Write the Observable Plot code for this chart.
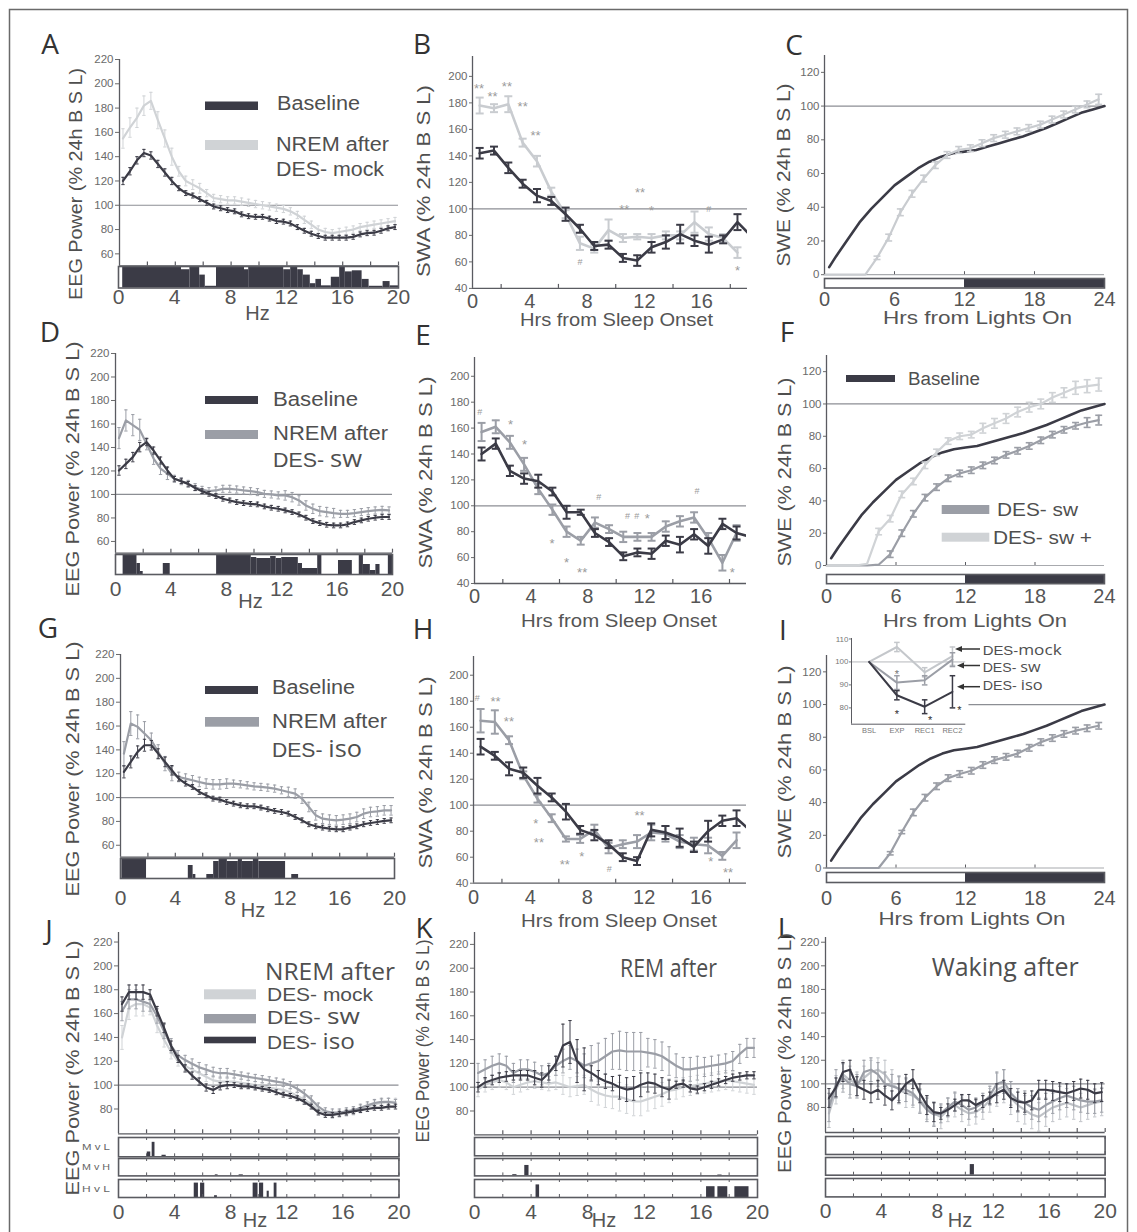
<!DOCTYPE html>
<html><head><meta charset="utf-8">
<script src="https://cdn.jsdelivr.net/npm/d3@7"></script>
<script src="https://cdn.jsdelivr.net/npm/@observablehq/plot@0.6"></script>
<style>
html,body{margin:0;padding:0;background:#fff;}
#root{position:relative;width:1137px;height:1232px;background:#fff;overflow:hidden;}
#root > svg{position:absolute;overflow:visible;}
</style></head>
<body><div id="root"></div>
<script>
// ================= DATA =================
const FREQ = d3.range(40).map(i => 0.25 + 0.5 * i);          // spectral bins (Hz)
const HZ_TICKS = [0, 4, 8, 12, 16, 20];
const HZ_MINOR = [2, 4, 6, 8, 10, 12, 14, 16, 18, 20];
const EEG_TICKS = [60, 80, 100, 120, 140, 160, 180, 200, 220];
const EEG_TICKS_J = [80, 100, 120, 140, 160, 180, 200, 220];
const SWA_TICKS = [40, 60, 80, 100, 120, 140, 160, 180, 200];
const SWA_XTICKS = [0, 4, 8, 12, 16];
const SWA_MINOR = [2, 6, 10, 14, 18];
const SWE_TICKS = [0, 20, 40, 60, 80, 100, 120];
const HRS_TICKS = [0, 6, 12, 18, 24];
const HRS_MINOR = [6, 12, 18];

// Panel A spectra (% baseline), error per 2-Hz band
const A_BSL  = [120,128,137,143,141,134,127,120,114,110,108,105,102,99,97.5,96,95,92.5,91,90.5,90.5,89,87,86.5,85,82,79,76.6,74.7,73.3,73.3,73.3,73.3,74,76,77,77.4,79,81,82];
const A_MOCK = [155,164,172,182,186,170,155,140,128,120,117,114,110,106,105,104,104,103,102,101,100,99,98,97,95,92,88,84,80,78,77,78,79,80,82,83,84,85,86,87];
const A_BSL_ERR  = [3,3,2,2,2,2,2,2,2,2];
const A_MOCK_ERR = [8,7,4,3,3,3,3,3,3,3];
// Panel D
const D_BSL = [120.4,126,131.8,140.3,144.5,137.4,128.9,120.4,113.3,111.3,109,105.4,102.8,100.5,98.6,96.3,94.9,93.5,92.6,92,91.5,89.8,88.7,87.8,86.4,85,83,80.2,77.3,75.6,74.2,73.6,73.6,74.5,76.5,77.9,79.3,80.2,80.8,80.8];
const D_SW  = [148,163,159,155,143,130.6,122,117.7,113.3,111.3,109,106.2,103.9,102.8,103.4,104.8,104.8,104.2,103.4,102.8,102,100.5,100,99.2,99.2,97.7,94.9,90.6,87.8,85.8,85,84.1,83.5,83.5,84.1,85,85.8,86.4,86.9,86.4];
const D_BSL_ERR = [4,3,2,2,2,2,2,2,2,2];
const D_SW_ERR  = [9,5,3,3,3,3,4,4,3,3];
// Panel G
const G_BSL = [121.5,129.9,138.3,143.9,143.9,136.9,129.9,122.9,115.9,111.7,108.9,104.7,101.9,99.1,98.3,96.3,94.9,93.5,92.7,92.7,91.6,90.2,88.8,87.9,86.5,83.7,80.9,77.6,75.9,74.8,73.9,73.4,73.4,74.8,75.9,77.6,78.7,79.5,80.4,80.9];
const G_ISO = [136.9,162.1,159.3,153.7,148.1,138.3,128.5,120.1,117.3,115.9,114.5,113.1,111.7,111.1,111.1,111.7,111.7,111.1,110.3,109.4,108.9,108.3,107.5,106.1,104.7,103.3,99.1,92.1,85.1,82.3,81.5,80.9,81.5,82.3,83.7,86.5,87.9,88.4,89.3,89.3];
const G_BSL_ERR = [5,4,2,2,2,2,2,2,2,2];
const G_ISO_ERR = [10,6,4,4,3,3,4,4,4,4];
// Panel J (NREM)
const J_MOCK = [140,165,168,168,165,150,138,128,120,116,113,110,107,104,103,103,103,102,101,100,99,98,97,96,94,91,88,84,79,76,75,76,77,78,80,82,84,85,86,86];
const J_SW   = [162,172,172,170,168,158,145,133,125,121,118,115,113,111,110,110,109,108,107,106,105,104,103,102,100,97,93,88,82,78,77,77,78,79,81,83,85,86,86,85];
const J_ISO  = [168,178,178,178,176,162,148,133,122,114,108,103,98,96,99,100,100,99,99,98,97,96,94,92,91,89,86,82,77,75,75,76,77,78,79,80,81,81,82,82];
const J_MOCK_ERR = [10,6,4,4,3,3,3,3,3,3];
const J_SW_ERR   = [8,6,4,4,3,3,3,3,3,3];
const J_ISO_ERR  = [6,4,3,3,2,2,2,2,2,2];
// Panel K (REM)
const K_MOCK = [98,102,104,106,104,100,102,104,105,104,103,104,102,100,101,102,98,95,93,92,92,90,88,88,90,92,94,97,98,100,101,102,103,104,105,106,105,104,103,102];
const K_SW   = [112,115,118,120,118,112,115,115,113,110,112,118,122,125,122,118,120,122,126,130,131,130,130,130,129,128,126,122,118,115,115,116,117,118,119,120,122,128,133,133];
const K_ISO  = [100,104,106,108,109,110,110,110,108,106,112,120,135,138,122,115,112,108,105,103,100,98,99,102,104,103,100,98,102,103,99,98,100,102,104,106,108,109,110,110];
const K_MOCK_ERR = [6,6,6,8,10,12,10,8,8,8];
const K_SW_ERR   = [8,8,8,10,15,16,12,10,8,8];
const K_ISO_ERR  = [4,4,6,18,6,10,8,3,3,3];
// Panel L (Waking)
const L_MOCK = [75,95,108,103,100,105,110,112,108,100,95,92,90,86,80,75,72,78,82,78,75,76,80,86,95,98,88,82,78,74,72,76,80,82,84,82,80,82,84,85];
const L_SW   = [80,100,105,100,98,110,112,108,100,98,96,95,92,85,78,74,75,80,85,82,78,80,84,90,100,102,92,86,84,80,78,82,85,88,90,88,86,85,85,86];
const L_ISO  = [88,97,110,112,98,95,92,95,90,86,92,100,104,92,82,76,75,78,82,86,86,82,85,88,92,95,88,85,84,86,95,95,94,93,92,94,96,95,92,93];
const L_MOCK_ERR = [12,10,12,10,10,10,14,12,12,12];
const L_SW_ERR   = [12,10,10,10,8,8,10,10,10,10];
const L_ISO_ERR  = [8,8,8,8,5,5,8,8,8,8];

// significance strips: [fromHz, toHz, relative height]
const A_SIG = [[0.3,4.5,1],[4.5,5.1,0.85],[5.1,5.8,1],[5.8,6.2,0.6],[6.2,7.0,0.08],[7.0,9.0,1],[9.0,9.3,0.85],[9.3,11.8,1],[11.8,12.3,0.85],[12.3,12.8,1],[12.8,13.2,0.85],[13.2,13.7,0.6],[13.7,14.1,0.2],[14.1,14.5,0.4],[14.5,15.2,0.1],[15.2,15.8,0.5],[15.8,16.2,1],[16.2,16.7,0.75],[16.7,17.4,0.8],[17.4,17.9,0.4],[17.9,18.9,0.08],[18.9,19.4,0.3],[19.4,20,0.1]];
const D_SIG = [[0.55,1.55,1],[1.55,1.8,0.55],[1.8,2.0,0.15],[3.45,3.95,0.55],[7.3,9.8,1],[9.8,10.2,0.85],[10.2,11.2,0.8],[11.2,11.6,0.9],[11.6,12.0,0.8],[12.0,13.2,0.85],[13.2,13.5,0.55],[13.5,14.6,0.3],[14.6,14.9,1],[16.1,17.1,0.7],[17.6,17.9,1],[17.9,18.4,0.5],[18.4,18.8,0.2],[18.8,19.1,0.5],[19.7,20,1]];
const G_SIG = [[0.1,1.9,1],[4.95,5.3,0.65],[5.3,5.5,0.2],[6.3,6.8,0.2],[6.8,7.2,0.85],[7.2,7.8,1],[7.8,8.6,0.85],[8.6,8.9,1],[8.9,9.7,0.85],[9.7,10.1,1],[10.1,12.05,0.85],[12.5,13.0,0.2]];
const J_MVL = [[2.05,2.3,0.25],[2.4,2.6,0.75],[3.1,3.4,0.08]];
const J_MVH = [[6.9,7.1,0.06],[8.6,8.9,0.06]];
const J_HVL = [[5.4,5.7,0.8],[5.85,6.15,0.8],[6.85,7.05,0.1],[9.6,9.95,0.8],[10.05,10.35,0.8],[10.6,10.75,0.35],[11.1,11.3,0.8]];
const K_MVL = [];
const K_MVH = [[2.7,3.0,0.07],[3.55,3.85,0.6],[17.2,17.5,0.05]];
const K_HVL = [[4.35,4.6,0.7],[16.4,17.0,0.6],[17.2,17.9,0.6],[18.4,19.4,0.6]];
const L_MVL = [];
const L_MVH = [[10.35,10.65,0.6]];
const L_HVL = [];

// SWA per hour from sleep onset
const SWA_H = d3.range(19).map(i => i + 0.5);
const TAIL_H = 19.5;
const B_BSL = [142,144,131,119,110,106,96,85,72,73,63,61,71,75,81,76,73,77,90];
const B_BSL_ERR = [4,3,4,3,5,3,5,3,3,3,3,4,4,5,7,4,6,3,6];
const B_BSL_TAIL = 79;
const B_MOCK = [178,176,179,150,136,113,96,74,70,84,78,79,78,80,80,90,81,78,67];
const B_MOCK_ERR = [6,3,6,3,4,3,3,5,3,8,3,2,3,3,3,8,5,3,4];
const B_MARKS = [[0.45,193,"**"],[1.4,187,"**"],[2.4,195,"**"],[3.5,180,"**"],[4.4,158,"**"],[7.5,59.5,"#"],[10.6,102,"**"],[11.7,115,"**"],[12.5,101,"*"],[16.5,100,"#"],[18.5,55.7,"*"]];
const E_BSL = [140,148,127,121,119,111,95,95,79,72,61,64,63,73,70,78,69,86,79];
const E_BSL_ERR = [5,4,4,4,5,3,5,2,3,3,3,3,4,4,6,4,6,4,5];
const E_BSL_TAIL = 76;
const E_SW = [157,161,149,132,113,97,80,73,87,82,76,76,76,84,88,91,75,56,79];
const E_SW_ERR = [7,5,5,5,4,4,4,3,4,3,4,3,3,4,4,4,4,6,6];
const E_MARKS = [[0.37,172,"#"],[2.54,165.6,"*"],[3.53,149.6,"*"],[8.77,106.4,"#"],[10.8,92.3,"#"],[11.45,92.3,"#"],[12.2,92.3,"*"],[15.7,111.6,"#"],[5.48,73.5,"*"],[6.5,58.8,"*"],[7.6,51,"**"],[18.2,51,"*"]];
const H_BSL = [145,138,128,125,115,106,95,81,77,70,60,57,81,79,75,68,80,88,90];
const H_BSL_ERR = [6,3,5,4,6,3,6,3,4,3,3,3,5,5,7,4,8,4,6];
const H_BSL_TAIL = 80;
const H_ISO = [165,164,150,123,105,90,74,74,81,67,70,72,79,78,72,70,69,61,73];
const H_ISO_ERR = [9,9,3,3,3,3,2,3,4,4,3,5,6,6,5,5,6,3,6];
const H_MARKS = [[0.26,182.6,"#"],[1.55,182.6,"**"],[2.49,167.2,"**"],[4.38,88.2,"*"],[4.6,73.4,"**"],[6.42,56.9,"**"],[7.62,62.6,"*"],[9.55,51.1,"#"],[11.67,94.6,"**"],[16.68,58.8,"*"],[17.9,50.3,"**"]];

// SWE cumulative (% of 24h baseline)
const BSL_SWE_H = [0.4,1,2,3,4,5,6,7,8,9,10,11,12,13,14,15,16,17,18,19,20,21,22,23,24];
const BSL_SWE   = [4.5,11,21,31,39,46,53,58,63,67,70,72,73,74,76,78,80,82,84.5,87,90,93,96,98,100];
const SWE_H = d3.range(24).map(i => i + 0.5);
const C_MOCK = [0,0,0,0,10,22,37,48,57,65,71,74,75,78,81,83,85,87,89,92,95,98,101,104];
const C_MOCK_ERR = [0,0,0,0,1,2,2,2,2,2,2,2,2,2,2,2,2,2,2,2,2,2,2,3];
const F_SW  = [0,0,0,0,0.5,7,20,32,42,48.5,54,57,59,62,65,68.5,71,74,77.5,81,84,86.5,88.5,90];
const F_SW_ERR = [0,0,0,0,0,2,2,2,2,2,2,2,2,2,2,2,2,2,2,2,2,2,3,3];
const F_SWP = [0,0,0,1,21,29,44,52,62,70,77,80,81,85,88,91,95,98,100,104,107,110,111,112];
const F_SWP_ERR = [0,0,0,0,2,2,2,2,2,2,2,2,2,3,3,3,3,3,3,3,3,4,4,4];
const I_ISO = [0,0,0,0,0,9,22,34,43,50,55,57.5,59.5,63,66,68,70,73.5,77,79.5,82,84,85.5,87];
const I_ISO_ERR = [0,0,0,0,0,1,1,2,2,2,2,2,2,2,2,2,2,2,2,2,2,2,2,2];
const LIGHT_PHASES = [{from: 0, to: 12, phase: "light"}, {from: 12, to: 24, phase: "dark"}];

// inset of panel I
const INSET_CAT = ["BSL", "EXP", "REC1", "REC2"];
const INSET_MOCK = [100, 106.5, 95.5, 102.5], INSET_MOCK_ERR = [0, 2, 2, 4];
const INSET_SW   = [100, 91, 92, 101],      INSET_SW_ERR   = [0, 3, 2, 3];
const INSET_ISO  = [100, 85.5, 80.5, 87],   INSET_ISO_ERR  = [0, 2, 3, 7];
const INSET_MARKS = [[1, 96, "*", "sw"], [1, 78.5, "*", "iso"], [2.2, 76, "*", "iso"], [3.25, 80, "*", "iso"]];

// ================= STYLE =================
const C_DARK = "#3b3b46", C_MID = "#9b9ea6", C_LIGHT = "#d0d3d6";
const C_AXIS = "#5a5b61", C_REF = "#8c8e94", C_TXT = "#4f4f4f";
const F_ARIAL = "'Liberation Sans', Arial, Helvetica, sans-serif";
const F_MYR = "'Open Sans', 'Noto Sans', sans-serif";
const root = document.getElementById("root");

function addPlot(box, m, opts, color = "#6a6a6a") {
  const [x0, y0, x1, y1] = box, [mt, mr, mb, ml] = m;
  const el = Plot.plot({
    width: (x1 - x0) + ml + mr, height: (y1 - y0) + mt + mb,
    marginTop: mt, marginRight: mr, marginBottom: mb, marginLeft: ml,
    style: {background: "transparent", fontFamily: F_ARIAL, color: color, overflow: "visible"},
    ...opts
  });
  el.style.position = "absolute";
  el.style.left = (x0 - ml) + "px";
  el.style.top = (y0 - mt) + "px";
  root.appendChild(el);
  return el;
}

function spectrum(box, yDom, yTicks, series) {
  const marks = [Plot.ruleY([100], {stroke: C_REF, strokeWidth: 1.2})];
  for (const s of series) {
    const d = FREQ.map((f, i) => ({f, v: s.v[i], e: s.e[Math.min(9, Math.floor(f / 2))]}));
    marks.push(
      Plot.ruleX(d, {x: "f", y1: q => q.v - q.e, y2: q => q.v + q.e, stroke: s.c, strokeWidth: 1, clip: true}),
      Plot.link(d, {x1: q => q.f - 0.12, x2: q => q.f + 0.12, y1: q => q.v + q.e, y2: q => q.v + q.e, stroke: s.c, strokeWidth: 1, clip: true}),
      Plot.link(d, {x1: q => q.f - 0.12, x2: q => q.f + 0.12, y1: q => q.v - q.e, y2: q => q.v - q.e, stroke: s.c, strokeWidth: 1, clip: true}),
      Plot.line(d, {x: "f", y: "v", stroke: s.c, strokeWidth: 2.2, clip: true})
    );
  }
  const k = (yDom[1] - yDom[0]) * 4 / (box[3] - box[1]);
  marks.push(
    Plot.ruleX(HZ_MINOR, {y1: yDom[0], y2: yDom[0] + k, stroke: C_AXIS, strokeWidth: 1.2}),
    Plot.ruleY([yDom[0]], {stroke: C_AXIS, strokeWidth: 1.3}),
    Plot.ruleX([0], {stroke: C_AXIS, strokeWidth: 1.3}),
    Plot.axisY({ticks: yTicks, tickSize: 4, tickPadding: 2, fontSize: 11.5, label: null})
  );
  addPlot(box, [6, 6, 2, 40], {x: {domain: [0, 20], axis: null}, y: {domain: yDom}, marks});
}

function strip(box, runs, {labels = false, pad = 4, both = false} = {}) {
  const marks = [Plot.rect(runs, {x1: r => r[0], x2: r => r[1], y1: 0, y2: r => r[2], fill: C_DARK, inset: 0})];
  if (both) {
    const k = 3 / (box[3] - box[1]);
    marks.push(Plot.ruleX(HZ_MINOR, {y1: 1, y2: 1 - k, stroke: C_AXIS}), Plot.ruleX(HZ_MINOR, {y1: 0, y2: k, stroke: C_AXIS}));
  }
  marks.push(Plot.frame({stroke: C_AXIS, strokeWidth: 1.6}));
  if (labels) marks.push(Plot.axisX({ticks: HZ_TICKS, tickSize: 0, tickPadding: pad, fontSize: 21, label: null}));
  addPlot(box, [2, 10, labels ? 32 : 2, 6], {x: {domain: [0, 20], axis: null}, y: {domain: [0, 1], axis: null}, marks}, "#555");
}

function swa(box, yDom, series, markers, pad) {
  const marks = [Plot.ruleY([100], {stroke: C_REF, strokeWidth: 1.3})];
  for (const s of series) {
    const d = SWA_H.map((h, i) => ({h, v: s.v[i], e: s.e[i]}));
    const dl = s.tail != null ? d.concat([{h: TAIL_H, v: s.tail}]) : d;
    marks.push(
      Plot.line(dl, {x: "h", y: "v", stroke: s.c, strokeWidth: 2.6, clip: true}),
      Plot.ruleX(d, {x: "h", y1: q => q.v - q.e, y2: q => q.v + q.e, stroke: s.c, strokeWidth: 2}),
      Plot.link(d, {x1: q => q.h - 0.28, x2: q => q.h + 0.28, y1: q => q.v + q.e, y2: q => q.v + q.e, stroke: s.c, strokeWidth: 2}),
      Plot.link(d, {x1: q => q.h - 0.28, x2: q => q.h + 0.28, y1: q => q.v - q.e, y2: q => q.v - q.e, stroke: s.c, strokeWidth: 2})
    );
  }
  const k = (yDom[1] - yDom[0]) * 4 / (box[3] - box[1]);
  marks.push(
    Plot.ruleX(SWA_MINOR, {y1: yDom[0], y2: yDom[0] + k, stroke: C_AXIS, strokeWidth: 1.2}),
    Plot.ruleY([yDom[0]], {stroke: C_AXIS, strokeWidth: 1.3}),
    Plot.ruleX([0], {stroke: C_AXIS, strokeWidth: 1.3}),
    Plot.axisY({ticks: SWA_TICKS, tickSize: 3, tickPadding: 2, fontSize: 11.5, label: null}),
    Plot.axisX({ticks: SWA_XTICKS, tickSize: 0, tickPadding: pad, fontSize: 20, label: null, fill: "#555"}),
    Plot.text(markers.filter(m => m[2] !== "#"), {x: m => m[0], y: m => m[1], text: m => m[2], fill: "#9a9a9a", fontSize: 13, dy: 3.5, fontFamily: F_ARIAL}),
    Plot.text(markers.filter(m => m[2] === "#"), {x: m => m[0], y: m => m[1], text: m => m[2], fill: "#9a9a9a", fontSize: 9, fontFamily: F_ARIAL})
  );
  addPlot(box, [4, 6, 32, 40], {x: {domain: [0, 19.2]}, y: {domain: yDom}, marks});
}

function swe(box, series, refFrom = 0) {
  const k = 130 * 3 / (box[3] - box[1]);
  const marks = [
    Plot.ruleY([100], {x1: refFrom, x2: 24, stroke: C_REF, strokeWidth: 1.2}),
    Plot.ruleY([0], {stroke: "#a8aaae", strokeWidth: 1.2}),
    Plot.line(BSL_SWE_H.map((h, i) => ({h, v: BSL_SWE[i]})), {x: "h", y: "v", stroke: C_DARK, strokeWidth: 2.6})
  ];
  for (const s of series) {
    const d = SWE_H.map((h, i) => ({h, v: s.v[i], e: s.e[i]}));
    const de = d.filter(q => q.e > 0);
    marks.push(
      Plot.line([{h: 0, v: 0}].concat(d), {x: "h", y: "v", stroke: s.c, strokeWidth: 2.2}),
      Plot.ruleX(de, {x: "h", y1: q => q.v - q.e, y2: q => q.v + q.e, stroke: s.c, strokeWidth: 2}),
      Plot.link(de, {x1: q => q.h - 0.3, x2: q => q.h + 0.3, y1: q => q.v + q.e, y2: q => q.v + q.e, stroke: s.c, strokeWidth: 1.6}),
      Plot.link(de, {x1: q => q.h - 0.3, x2: q => q.h + 0.3, y1: q => q.v - q.e, y2: q => q.v - q.e, stroke: s.c, strokeWidth: 1.6})
    );
  }
  marks.push(
    Plot.ruleX(HRS_MINOR, {y1: 0, y2: k, stroke: C_AXIS}),
    Plot.ruleX([0], {stroke: C_AXIS, strokeWidth: 1.3}),
    Plot.axisY({ticks: SWE_TICKS, tickSize: 3, tickPadding: 2, fontSize: 11.5, label: null})
  );
  addPlot(box, [4, 6, 2, 40], {x: {domain: [0, 24], axis: null}, y: {domain: [0, 130]}, marks});
}

function dayBar(box, pad) {
  const marks = [
    Plot.rect(LIGHT_PHASES.filter(p => p.phase === "light"), {x1: "from", x2: "to", y1: 0, y2: 1, fill: "white"}),
    Plot.rect(LIGHT_PHASES.filter(p => p.phase === "dark"), {x1: "from", x2: "to", y1: 0, y2: 1, fill: C_DARK}),
    Plot.frame({stroke: C_AXIS, strokeWidth: 1.6}),
    Plot.axisX({ticks: HRS_TICKS, tickSize: 0, tickPadding: pad, fontSize: 20, label: null})
  ];
  addPlot(box, [2, 12, 32, 6], {x: {domain: [0, 24]}, y: {domain: [0, 1], axis: null}, marks}, "#555");
}

function inset(box) {
  const yDom = [72.9, 110.2];
  const series = [
    {v: INSET_MOCK, e: INSET_MOCK_ERR, c: "#c4c7cb"},
    {v: INSET_SW, e: INSET_SW_ERR, c: C_MID},
    {v: INSET_ISO, e: INSET_ISO_ERR, c: C_DARK}
  ];
  const marks = [Plot.ruleY([100], {stroke: "#b5b7bb", strokeWidth: 1})];
  for (const s of series) {
    const d = INSET_CAT.map((c, i) => ({i, v: s.v[i], e: s.e[i]}));
    const de = d.filter(q => q.e > 0);
    marks.push(
      Plot.line(d, {x: "i", y: "v", stroke: s.c, strokeWidth: 2}),
      Plot.ruleX(de, {x: "i", y1: q => q.v - q.e, y2: q => q.v + q.e, stroke: s.c, strokeWidth: 1.5}),
      Plot.link(de, {x1: q => q.i - 0.1, x2: q => q.i + 0.1, y1: q => q.v + q.e, y2: q => q.v + q.e, stroke: s.c, strokeWidth: 1.5}),
      Plot.link(de, {x1: q => q.i - 0.1, x2: q => q.i + 0.1, y1: q => q.v - q.e, y2: q => q.v - q.e, stroke: s.c, strokeWidth: 1.5})
    );
  }
  marks.push(
    Plot.ruleX([-0.633], {stroke: C_AXIS, strokeWidth: 1}),
    Plot.ruleY([yDom[0]], {stroke: C_AXIS, strokeWidth: 1}),
    Plot.axisY({ticks: [80, 90, 100, 110], tickSize: 2, tickPadding: 1, fontSize: 8, label: null}),
    Plot.axisX({ticks: [0, 1, 2, 3], tickFormat: i => INSET_CAT[i], tickSize: 0, tickPadding: 3, fontSize: 7.5, label: null}),
    Plot.text(INSET_MARKS, {x: m => m[0], y: m => m[1], text: m => m[2], fill: m => m[3] === "sw" ? "#777" : "#333", fontSize: 11, dy: 3})
  );
  addPlot(box, [2, 4, 14, 22], {x: {domain: [-0.633, 3.48], axis: null}, y: {domain: yDom}, marks}, "#777");
}

// ================= PANELS =================
// Row 1
spectrum([119, 58.5, 398, 265], [50, 220], EEG_TICKS, [
  {v: A_MOCK, e: A_MOCK_ERR, c: C_LIGHT}, {v: A_BSL, e: A_BSL_ERR, c: C_DARK}]);
strip([118, 266, 398, 287.5], A_SIG, {labels: true, pad: 1});
swa([472, 55.6, 747, 287.5], [40, 215], [
  {v: B_MOCK, e: B_MOCK_ERR, c: "#c9ccd0"}, {v: B_BSL, e: B_BSL_ERR, c: C_DARK, tail: B_BSL_TAIL}], B_MARKS, 5);
swe([824.3, 54.8, 1104.3, 274], [{v: C_MOCK, e: C_MOCK_ERR, c: "#c9ccd0"}]);
dayBar([824.3, 278, 1104.3, 287.5], 3.5);

// Row 2
spectrum([115, 353, 392, 552.7], [50, 220], EEG_TICKS, [
  {v: D_SW, e: D_SW_ERR, c: C_MID}, {v: D_BSL, e: D_BSL_ERR, c: C_DARK}]);
strip([115, 554, 392, 574], D_SIG, {labels: true, pad: 7});
swa([474, 356.7, 746, 582.7], [40, 214.5], [
  {v: E_SW, e: E_SW_ERR, c: C_MID}, {v: E_BSL, e: E_BSL_ERR, c: C_DARK, tail: E_BSL_TAIL}], E_MARKS, 5.2);
swe([826, 355, 1104, 565], [{v: F_SW, e: F_SW_ERR, c: C_MID}, {v: F_SWP, e: F_SWP_ERR, c: C_LIGHT}]);
dayBar([826, 573.5, 1104, 582.7], 5.2);

// Row 3
spectrum([120, 654, 394, 856.7], [50, 220], EEG_TICKS, [
  {v: G_ISO, e: G_ISO_ERR, c: C_MID}, {v: G_BSL, e: G_BSL_ERR, c: C_DARK}]);
strip([120, 858.3, 394, 878.3], G_SIG, {labels: true, pad: 11.5});
swa([473, 656, 746, 882.7], [40, 214.4], [
  {v: H_ISO, e: H_ISO_ERR, c: C_MID}, {v: H_BSL, e: H_BSL_ERR, c: C_DARK, tail: H_BSL_TAIL}], H_MARKS, 6.8);
swe([826, 654.8, 1104, 867.3], [{v: I_ISO, e: I_ISO_ERR, c: C_MID}], 12.3);
dayBar([826, 871.7, 1104, 881.7], 7.8);
inset([850.7, 638.3, 965, 724]);

// Row 4
spectrum([117.5, 931.7, 398, 1133], [59.2, 228], EEG_TICKS_J, [
  {v: J_MOCK, e: J_MOCK_ERR, c: C_LIGHT}, {v: J_SW, e: J_SW_ERR, c: C_MID}, {v: J_ISO, e: J_ISO_ERR, c: C_DARK}]);
strip([117.5, 1136.7, 398, 1156], J_MVL, {both: true});
strip([117.5, 1158.3, 398, 1175.7], J_MVH, {both: true});
strip([117.5, 1179.3, 398, 1197.3], J_HVL, {both: true, labels: true, pad: 7});
spectrum([474, 931.7, 757, 1134], [60, 230], EEG_TICKS_J, [
  {v: K_MOCK, e: K_MOCK_ERR, c: C_LIGHT}, {v: K_SW, e: K_SW_ERR, c: C_MID}, {v: K_ISO, e: K_ISO_ERR, c: C_DARK}]);
strip([474, 1136.7, 757, 1155], K_MVL, {both: true});
strip([474, 1158.3, 757, 1175.7], K_MVH, {both: true});
strip([474, 1179.3, 757, 1197.3], K_HVL, {both: true, labels: true, pad: 7});
spectrum([825.3, 936.7, 1105, 1131.7], [58.8, 224], EEG_TICKS_J, [
  {v: L_MOCK, e: L_MOCK_ERR, c: "#bfc2c7"}, {v: L_SW, e: L_SW_ERR, c: C_MID}, {v: L_ISO, e: L_ISO_ERR, c: C_DARK}]);
strip([825.3, 1136, 1105, 1154], L_MVL, {both: true});
strip([825.3, 1157.3, 1105, 1175], L_MVH, {both: true});
strip([825.3, 1178.3, 1105, 1196.7], L_HVL, {both: true, labels: true, pad: 6});

// ================= ANNOTATION OVERLAY =================
const ov = d3.select(root).append("svg").attr("width", 1137).attr("height", 1232)
  .style("left", "0px").style("top", "0px").style("pointer-events", "none");
ov.append("rect").attr("x", 9.5).attr("y", 9.5).attr("width", 1118).attr("height", 1240)
  .attr("fill", "none").attr("stroke", "#6a6a6a").attr("stroke-width", 1.5);

function T(str, x, y, o = {}) {
  const {size = 20, anchor = "start", fill = C_TXT, family = F_ARIAL, len = null, rot = false} = o;
  const t = ov.append("text").attr("font-size", size).attr("font-family", family).attr("fill", fill).attr("text-anchor", anchor);
  t.attr("x", x).attr("y", y + 0.36 * size);
  if (rot) t.attr("transform", `rotate(-90 ${x} ${y})`);
  if (Array.isArray(str)) str.forEach(([s, sz, fam]) => t.append("tspan").attr("font-size", sz || size).attr("font-family", fam || family).text(s));
  else t.text(str);
  if (len) t.attr("textLength", len).attr("lengthAdjust", "spacingAndGlyphs");
  return t;
}
function R(x, y, w, h, c) { ov.append("rect").attr("x", x).attr("y", y).attr("width", w).attr("height", h).attr("fill", c); }
function arrow(x1, x2, y) {
  ov.append("line").attr("x1", x1).attr("x2", x2 + 5).attr("y1", y).attr("y2", y).attr("stroke", "#333").attr("stroke-width", 1.5);
  ov.append("path").attr("d", `M${x2},${y} L${x2 + 7},${y - 3} L${x2 + 7},${y + 3} Z`).attr("fill", "#333");
}
const LET = {size: 28, family: F_MYR, fill: "#333", anchor: "middle"};
// letters
[["A", 50, 44], ["B", 422, 44], ["C", 794, 45], ["D", 50, 332], ["E", 423, 335], ["F", 787, 332],
 ["G", 48, 628], ["H", 423, 629], ["I", 783, 630], ["J", 49, 930], ["K", 424, 928], ["L", 785, 928]]
  .forEach(([s, x, y]) => T(s, x, y, LET));

// y labels
const EEGL = "EEG Power (% 24h B S L)";
T(EEGL, 75, 184, {rot: true, anchor: "middle", size: 19, len: 232});
T(EEGL, 72, 469, {rot: true, anchor: "middle", size: 19, len: 255});
T(EEGL, 72, 769, {rot: true, anchor: "middle", size: 19, len: 255});
T(EEGL, 72, 1068, {rot: true, anchor: "middle", size: 19, len: 255});
T(EEGL, 423, 1041, {rot: true, anchor: "middle", size: 18, len: 203});
T(EEGL, 784, 1053, {rot: true, anchor: "middle", size: 19, len: 240});
T("SWA (% 24h B S L)", 422.7, 181, {rot: true, anchor: "middle", size: 19, len: 192});
T("SWA (% 24h B S L)", 425, 472.5, {rot: true, anchor: "middle", size: 19, len: 192});
T("SWA (% 24h B S L)", 425, 772.5, {rot: true, anchor: "middle", size: 19, len: 192});
T("SWE (% 24h B S L)", 783.3, 175, {rot: true, anchor: "middle", size: 19, len: 183});
T("SWE (% 24h B S L)", 784, 472, {rot: true, anchor: "middle", size: 19, len: 189});
T("SWE (% 24h B S L)", 784, 762, {rot: true, anchor: "middle", size: 19, len: 193});

// x labels
[[257.5, 313], [250.5, 600.5], [253, 910], [255, 1220], [604, 1220], [960, 1220]].forEach(([x, y]) => T("Hz", x, y, {anchor: "middle", size: 20, fill: "#555"}));
T("Hrs from Sleep Onset", 616.5, 319.5, {anchor: "middle", size: 19, len: 193, fill: "#555"});
T("Hrs from Sleep Onset", 619, 620, {anchor: "middle", size: 19, len: 196, fill: "#555"});
T("Hrs from Sleep Onset", 619, 920, {anchor: "middle", size: 19, len: 196, fill: "#555"});
T("Hrs from Lights On", 977.5, 317.5, {anchor: "middle", size: 19, len: 189, fill: "#555"});
T("Hrs from Lights On", 975, 620, {anchor: "middle", size: 19, len: 184, fill: "#555"});
T("Hrs from Lights On", 972, 918, {anchor: "middle", size: 19, len: 187, fill: "#555"});

// legends A, D, G
R(205, 101.5, 53, 8.5, C_DARK); T("Baseline", 277, 102.5, {len: 83});
R(205, 140, 53, 10, C_LIGHT); T("NREM after", 276, 143.3, {len: 113}); T("DES- mock", 276, 169, {len: 108});
R(205, 396, 53, 8, C_DARK); T("Baseline", 273, 398.8, {len: 85});
R(205, 430, 53, 9, C_MID); T("NREM after", 273, 432.5, {len: 115});
T([["DES- ", 20], ["sw", 24, F_MYR]], 273, 459.5, {len: 89});
R(205, 686, 53, 8, C_DARK); T("Baseline", 272, 686.7, {len: 83});
R(205, 717, 54, 9.7, C_MID); T("NREM after", 272, 720.8, {len: 115});
T([["DES- ", 20], ["iso", 24, F_MYR]], 272, 749.5, {len: 90});
// legend F
R(846, 375, 49, 7, C_DARK); T("Baseline", 908, 378.5, {size: 18, len: 72});
R(941.7, 505, 47.6, 9, C_MID); T("DES- sw", 997, 509.5, {size: 18, len: 81});
R(941.7, 532.7, 47.6, 9, C_LIGHT); T("DES- sw +", 993, 537.5, {size: 18, len: 99});
// inset labels I
T([["DES-", 13], ["mock", 15, F_MYR]], 982.7, 650, {size: 13, len: 79}); arrow(980, 955, 649);
T([["DES- ", 13], ["sw", 15, F_MYR]], 982.7, 667.8, {size: 13, len: 58}); arrow(980, 957, 665.5);
T([["DES- ", 13], ["iso", 15, F_MYR]], 982.7, 685.5, {size: 13, len: 60}); arrow(980, 957, 686.7);
// legend J
T("NREM after", 265, 972, {size: 23, family: F_MYR, len: 130});
R(204, 989.3, 52, 10, C_LIGHT); T("DES- mock", 267, 994.5, {size: 18, len: 106});
R(204, 1014, 52, 9.3, C_MID); T([["DES- ", 18], ["sw", 21, F_MYR]], 267, 1018, {size: 18, len: 93});
R(204, 1036.7, 52, 6.6, C_DARK); T([["DES- ", 18], ["iso", 21, F_MYR]], 267, 1043, {size: 18, len: 88});
[["M v L", 1146.5], ["M v H", 1167], ["H v L", 1188.3]].forEach(([s, y]) => T(s, 110, y, {size: 9, anchor: "end", fill: "#666", len: 28}));
T("REM after", 620, 968, {size: 25, family: F_MYR, len: 97});
T("Waking after", 931.7, 967, {size: 25, family: F_MYR, len: 147});
</script>
</body></html>
